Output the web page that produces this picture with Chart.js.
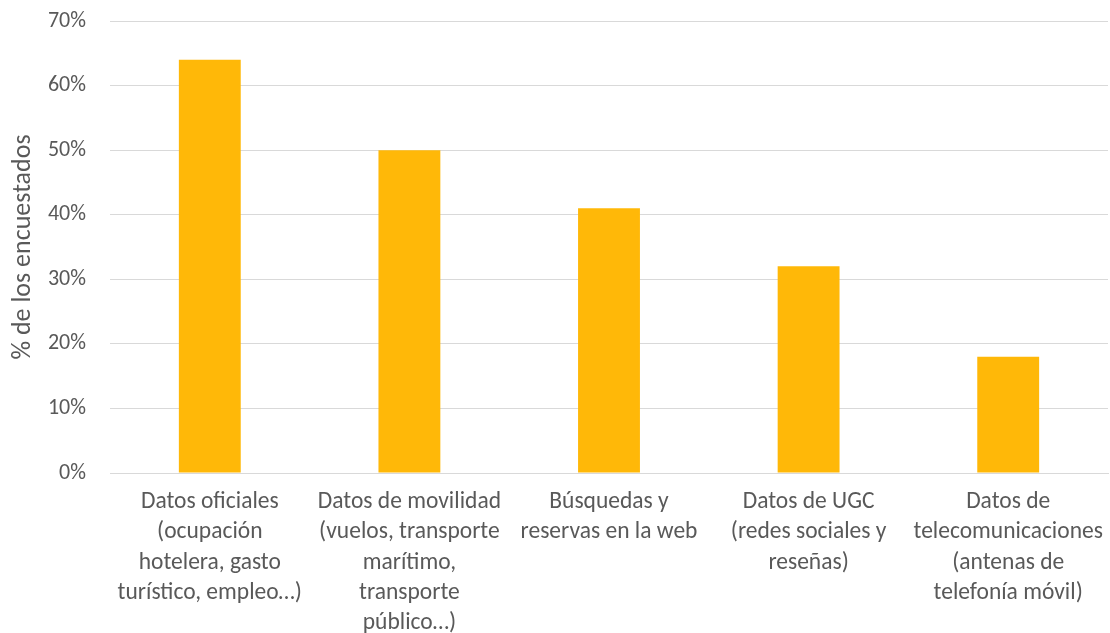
<!DOCTYPE html>
<html><head><meta charset="utf-8">
<script src="https://cdn.jsdelivr.net/npm/chart.js@4/dist/chart.umd.min.js"></script>
<style>html,body{margin:0;padding:0;background:#fff}#wrap{width:1110px;height:633px;position:relative}</style>
</head><body><div id="wrap"><canvas id="c"></canvas></div>
<script>
const categories = [
  ["Datos oficiales","(ocupación","hotelera, gasto","turístico, empleo…)"],
  ["Datos de movilidad","(vuelos, transporte","marítimo,","transporte","público…)"],
  ["Búsquedas y","reservas en la web"],
  ["Datos de UGC","(redes sociales y","reseñas)"],
  ["Datos de","telecomunicaciones","(antenas de","telefonía móvil)"]
];
const values = [64, 50, 41, 32, 18];
const yTicks = [0,10,20,30,40,50,60,70];
const yTitle = "% de los encuestados";

const FONT = "Carlito, Calibri, Lato, 'Open Sans', sans-serif";
const TXT = "#595959";
Chart.defaults.font.family = FONT;
Chart.defaults.color = TXT;

new Chart(document.getElementById('c'), {
  type: 'bar',
  data: { labels: categories, datasets: [{ data: values, backgroundColor: '#FFB808', borderWidth: 0, barPercentage: 0.31, categoryPercentage: 1 }] },
  options: {
    responsive: true, maintainAspectRatio: false, animation: false,
    layout: { padding: { left: 8, right: 2, top: 0, bottom: 0 } },
    plugins: { legend: { display: false }, tooltip: { enabled: false } },
    scales: {
      x: {
        grid: { display: false },
        border: { display: true, color: '#D9D9D9', width: 1 },
        ticks: { font: { size: 23.5, lineHeight: 1.29 }, color: TXT, maxRotation: 0, autoSkip: false, padding: 6 },
        afterFit: s => { s.height = 160; }
      },
      y: {
        min: 0, max: 70,
        afterBuildTicks: s => { s.ticks = yTicks.map(v => ({ value: v })); },
        grid: { color: '#D9D9D9', lineWidth: 1, drawTicks: false },
        border: { display: false },
        ticks: { font: { size: 22 }, color: TXT, padding: 24, callback: v => v + '%' },
        title: { display: true, text: yTitle, font: { size: 26 }, color: TXT, padding: { top: 0, bottom: 0 } },
        afterFit: s => { s.width = 102; s.paddingTop = 21; s.paddingBottom = 0; }
      }
    }
  }
});
</script></body></html>
